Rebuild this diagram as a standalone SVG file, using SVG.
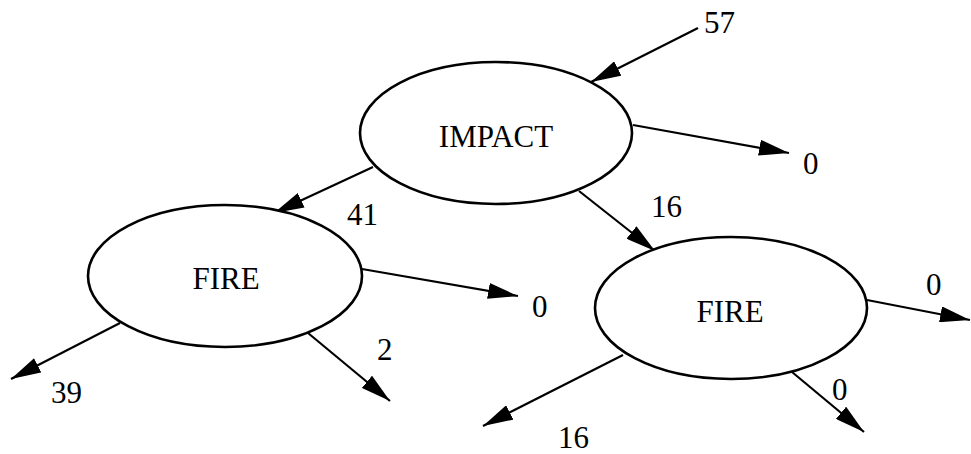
<svg xmlns="http://www.w3.org/2000/svg" width="971" height="454" viewBox="0 0 971 454">
<style>
.node{fill:#fff;stroke:#000;stroke-width:2.6}
.edge{stroke:#000;stroke-width:2.2;fill:none;marker-end:url(#arr)}
text{font-family:"Liberation Serif","Times New Roman",serif;font-size:31px;fill:#000}
.c{text-anchor:middle}
</style>
<defs>
<marker id="arr" markerUnits="userSpaceOnUse" markerWidth="30" markerHeight="16" refX="30" refY="8" orient="auto">
<path d="M0,0 L30,8 L0,16 z" fill="#000"/>
</marker>
</defs>
<rect width="971" height="454" fill="#fff"/>
<g id="connectors">
<line class="edge" x1="698" y1="28" x2="591" y2="82"/>
<line class="edge" x1="633" y1="125" x2="789" y2="153"/>
<line class="edge" x1="373" y1="167" x2="274" y2="213"/>
<line class="edge" x1="579" y1="191" x2="655" y2="251"/>
<line class="edge" x1="362" y1="269" x2="518" y2="296"/>
<line class="edge" x1="120" y1="323" x2="11" y2="379"/>
<line class="edge" x1="308" y1="333" x2="390" y2="401"/>
<line class="edge" x1="867" y1="300" x2="970" y2="320"/>
<line class="edge" x1="623" y1="355" x2="483" y2="426"/>
<line class="edge" x1="792" y1="372" x2="864" y2="432"/>
</g>
<g id="labels">
<text x="704" y="33">57</text>
<text x="803" y="174">0</text>
<text x="347" y="225">41</text>
<text x="651" y="217">16</text>
<text x="532" y="317">0</text>
<text x="377" y="360">2</text>
<text x="51" y="403">39</text>
<text x="926" y="295">0</text>
<text x="558" y="448">16</text>
<text x="832" y="400">0</text>
</g>
<g id="impact">
<ellipse class="node" cx="496" cy="133" rx="136" ry="71"/>
<text class="c" x="496" y="147">IMPACT</text>
</g>
<g id="fire-left">
<ellipse class="node" cx="225" cy="276" rx="137" ry="71"/>
<text class="c" x="226" y="289">FIRE</text>
</g>
<g id="fire-right">
<ellipse class="node" cx="731" cy="308" rx="136" ry="71"/>
<text class="c" x="730" y="322">FIRE</text>
</g>
</svg>
